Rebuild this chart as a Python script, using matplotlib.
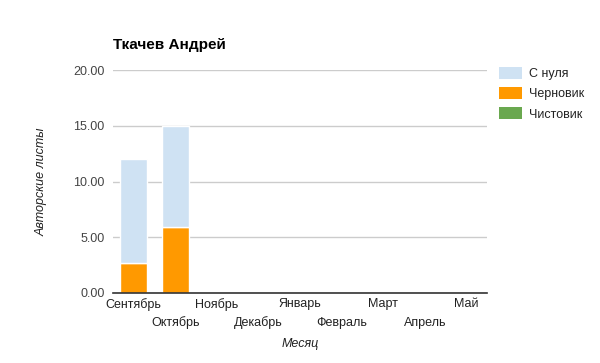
import matplotlib

matplotlib.use("Agg")
import matplotlib.pyplot as plt
import numpy as np
from matplotlib.patches import Patch

plt.rcParams["font.family"] = ["Liberation Sans", "DejaVu Sans"]

months = ["Сентябрь", "Октябрь", "Ноябрь", "Декабрь", "Январь",
          "Февраль", "Март", "Апрель", "Май"]
draft = [2.7, 5.9, 0, 0, 0, 0, 0, 0, 0]
from_scratch = [9.3, 9.1, 0, 0, 0, 0, 0, 0, 0]
final = [0, 0, 0, 0, 0, 0, 0, 0, 0]
series_names = ["С нуля", "Черновик", "Чистовик"]
colors = ["#cfe2f3", "#ff9900", "#6aa84f"]
yticks = [0, 5, 10, 15, 20]

fig = plt.figure(figsize=(6, 3.63), dpi=100)
ax = fig.add_axes([0.188, 0.193, 0.624, 0.614])

x = np.arange(len(months))
w = 0.65
bot = np.zeros(len(months))
for vals, col in [(draft, colors[1]), (from_scratch, colors[0]), (final, colors[2])]:
    v = np.array(vals, dtype=float)
    mask = v > 0
    ax.bar(x[mask], v[mask], w, bottom=bot[mask], color=col,
           edgecolor="white", linewidth=1, zorder=3)
    bot += v

ax.set_xlim(-0.5, len(months) - 0.5)
ax.set_ylim(0, 20)
ax.set_yticks(yticks)
ax.set_yticklabels([f"{t:.2f}" for t in yticks], color="#444444", fontsize=9)
# alternating two-row month labels: even on major ticks, odd on minor ticks
ax.set_xticks(x[::2])
ax.set_xticklabels(months[::2], color="#222222", fontsize=9)
ax.set_xticks(x[1::2], minor=True)
ax.set_xticklabels(months[1::2], minor=True, color="#222222", fontsize=9)
ax.tick_params(axis="both", which="both", length=0)
ax.tick_params(axis="y", pad=6)
ax.tick_params(axis="x", which="major", pad=4)
ax.tick_params(axis="x", which="minor", pad=17)
ax.grid(axis="y", color="#cccccc", linewidth=1, zorder=0)
for s in ["top", "right", "left"]:
    ax.spines[s].set_visible(False)
ax.spines["bottom"].set_color("#333333")
ax.spines["bottom"].set_linewidth(1.2)
ax.spines["bottom"].set_zorder(4)

ax.set_ylabel("Авторские листы", fontsize=9, style="italic", color="#222222", labelpad=18)
ax.set_xlabel("Месяц", fontsize=9, style="italic", color="#222222", labelpad=6)

fig.text(113 / 600, 1 - 45 / 363, "Ткачев Андрей", fontsize=11, fontweight="bold",
         va="center", ha="left", color="#000000")

handles = [Patch(facecolor=c, edgecolor="none") for c in colors]
fig.legend(handles, series_names, loc="upper left", bbox_to_anchor=(499 / 600, 1 - 67 / 363),
           frameon=False, fontsize=9, handlelength=1.8, handleheight=1.1,
           labelspacing=0.55, handletextpad=0.6, borderaxespad=0, borderpad=0,
           labelcolor="#222222")

fig.savefig("out.png", dpi=100)
